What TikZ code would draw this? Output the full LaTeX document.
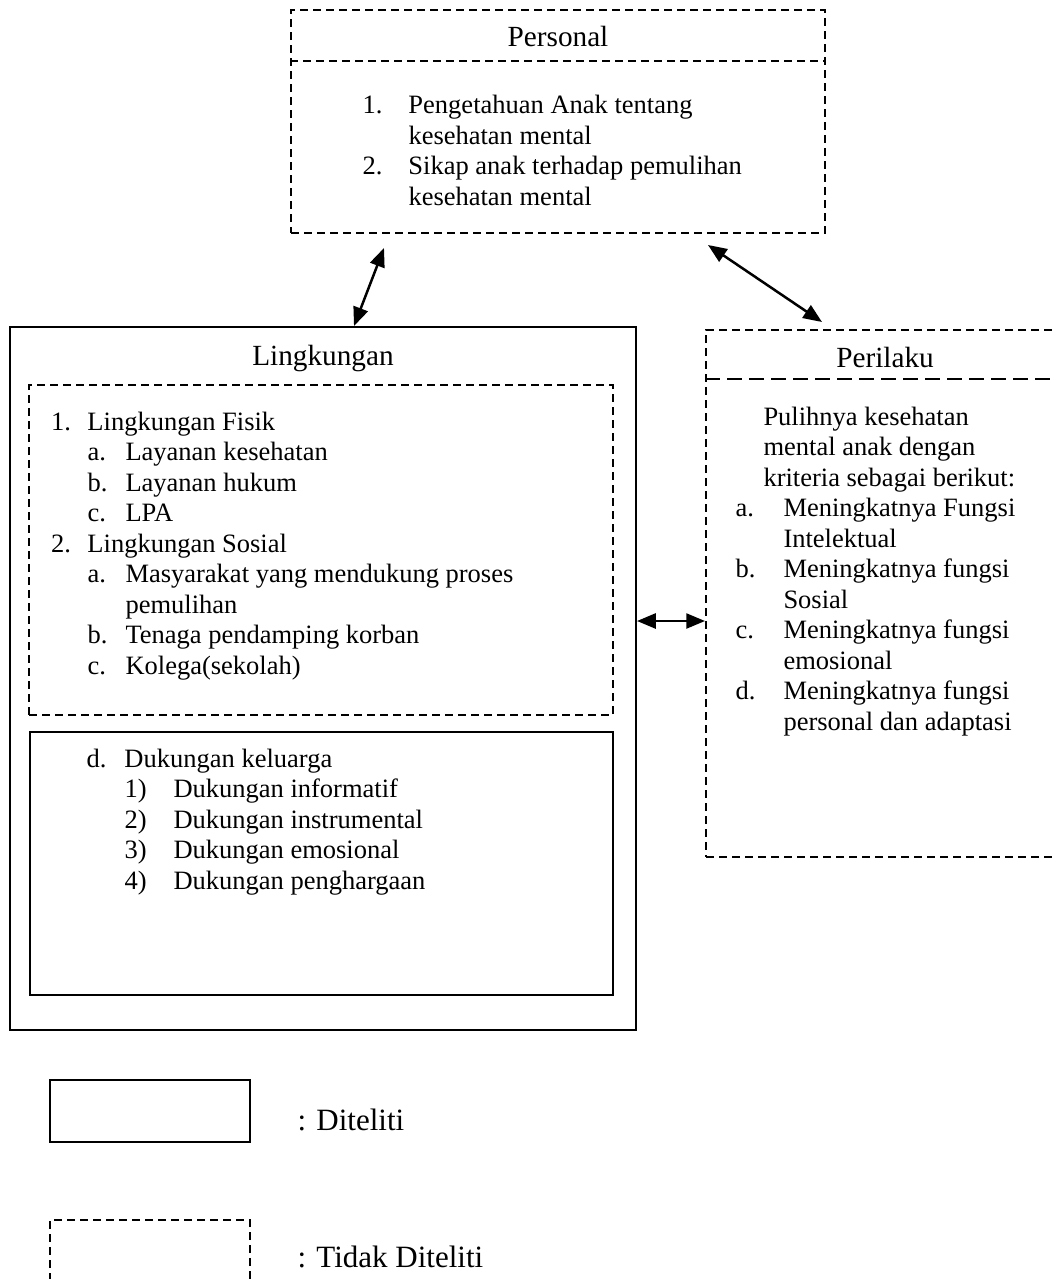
\documentclass[tikz,border=0pt]{standalone}
\usepackage{fontspec}
\setmainfont{Liberation Serif}
\usepackage{tikz}
\usetikzlibrary{arrows.meta,fit,calc}

\begin{document}
\begin{tikzpicture}[
  x=0.4pt, y=-0.4pt,
  solidbox/.style={draw, line width=0.8pt, inner sep=0pt},
  dashbox/.style={draw, line width=0.8pt, dash pattern=on 3.2pt off 2pt, inner sep=0pt},
  dashline/.style={line width=0.8pt, dash pattern=on 3.2pt off 2pt},
  longdash/.style={line width=0.8pt, dash pattern=on 6pt off 2.8pt},
  titletext/.style={font=\fontsize{11.7}{14}\selectfont, inner sep=0pt, anchor=base},
  listtext/.style={font=\fontsize{10.6}{12.2}\selectfont, inner sep=0pt, anchor=north west},
  legtext/.style={font=\fontsize{12.4}{14}\selectfont, inner sep=0pt, anchor=base west},
  arr/.style={{Triangle[length=7.5pt,width=6pt]}-{Triangle[length=7.5pt,width=6pt]}, line width=1pt}
]
  \useasboundingbox (0,0) rectangle (1057,1279);
  \clip (0,0) rectangle (1057,1279);

  % Personal (tidak diteliti)
  \node[dashbox, fit={(291,10) (825,233)}] (personal) {};
  \draw[dashline] ($(personal.north west)+(0,52)$) -- ($(personal.north east)+(0,52)$);
  \node[titletext] (perstitle) at (558,47) {Personal};
  \node[listtext] (persitems) at (362,92) {%
    \begin{tabular}{@{}p{18.4pt}@{}l@{}}
      1. & Pengetahuan Anak tentang\\
         & kesehatan mental\\
      2. & Sikap anak terhadap pemulihan\\
         & kesehatan mental
    \end{tabular}};

  % Lingkungan (diteliti)
  \node[solidbox, fit={(10,327) (636,1030)}] (ling) {};
  \node[titletext] (lingtitle) at (323,365) {Lingkungan};
  \node[dashbox, fit={(29,385) (613,715)}] (fisik) {};
  \node[listtext] (fisikitems) at (50.5,408.6) {%
    \begin{tabular}{@{}p{14.6pt}@{}p{15.2pt}@{}l@{}}
      1. & \multicolumn{2}{@{}l@{}}{Lingkungan Fisik}\\
         & a. & Layanan kesehatan\\
         & b. & Layanan hukum\\
         & c. & LPA\\
      2. & \multicolumn{2}{@{}l@{}}{Lingkungan Sosial}\\
         & a. & Masyarakat yang mendukung proses\\
         &    & pemulihan\\
         & b. & Tenaga pendamping korban\\
         & c. & Kolega(sekolah)
    \end{tabular}};
  \node[solidbox, fit={(30,732) (613,995)}] (keluarga) {};
  \node[listtext] (keluargaitems) at (86,745.6) {%
    \begin{tabular}{@{}p{15.2pt}@{}p{19.6pt}@{}l@{}}
      d. & \multicolumn{2}{@{}l@{}}{Dukungan keluarga}\\
         & 1) & Dukungan informatif\\
         & 2) & Dukungan instrumental\\
         & 3) & Dukungan emosional\\
         & 4) & Dukungan penghargaan
    \end{tabular}};

  % Perilaku (tidak diteliti)
  \node[dashbox, fit={(706,330) (1064,857)}] (peri) {};
  \draw[longdash] ($(peri.north west)+(0,50)$) -- ($(peri.north east)+(0,50)$);
  \node[titletext] (perititle) at (885,367) {Perilaku};
  \node[listtext] (periitems) at (735,403.6) {%
    \begin{tabular}{@{}p{19.2pt}@{}l@{}}
      \multicolumn{2}{@{}l@{}}{\hspace{11.2pt}Pulihnya kesehatan}\\
      \multicolumn{2}{@{}l@{}}{\hspace{11.2pt}mental anak dengan}\\
      \multicolumn{2}{@{}l@{}}{\hspace{11.2pt}kriteria sebagai berikut:}\\
      a. & Meningkatnya Fungsi\\
         & Intelektual\\
      b. & Meningkatnya fungsi\\
         & Sosial\\
      c. & Meningkatnya fungsi\\
         & emosional\\
      d. & Meningkatnya fungsi\\
         & personal dan adaptasi
    \end{tabular}};

  % hubungan
  \draw[arr] ($(ling.north west)+(345,0)$) -- ($(personal.south west)+(94,14)$);
  \draw[arr] ($(personal.south east)+(-118,11)$) -- ($(peri.north west)+(117,-7)$);
  \draw[arr] ($(ling.north east)+(0,295)$) -- ($(peri.north west)+(0,292)$);

  % Keterangan
  \node[solidbox, line width=1pt, fit={(50,1080) (250,1142)}] (legsolid) {};
  \node[legtext] (legsolidtxt) at (297,1130) {: Diteliti};
  \node[dashbox, fit={(50,1220) (250,1300)}] (legdash) {};
  \node[legtext] (legdashtxt) at (297,1267) {: Tidak Diteliti};
\end{tikzpicture}
\end{document}
